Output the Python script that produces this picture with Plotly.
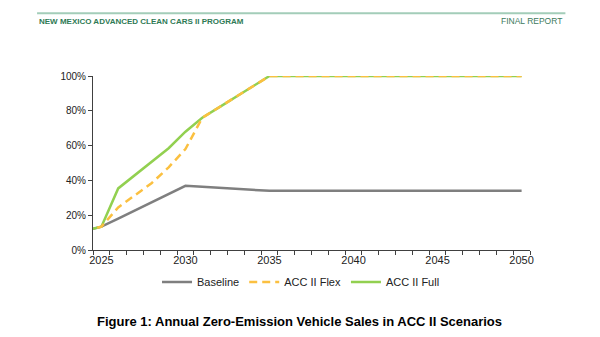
import plotly.graph_objects as go

years = list(range(2024, 2051))
baseline = [0.11, 0.134, 0.181, 0.228, 0.275, 0.322, 0.369, 0.364, 0.358, 0.352, 0.346, 0.340] + [0.340] * 15
acc_flex = [0.11, 0.134, 0.245, 0.315, 0.385, 0.475, 0.58, 0.76, 0.82, 0.88, 0.94, 1.0] + [1.0] * 15
acc_full = [0.11, 0.134, 0.354, 0.43, 0.505, 0.585, 0.68, 0.76, 0.82, 0.88, 0.94, 1.0] + [1.0] * 15

x_tick_vals = [2025, 2030, 2035, 2040, 2045, 2050]
y_tick_vals = [0, 0.2, 0.4, 0.6, 0.8, 1.0]
y_tick_text = ["0%", "20%", "40%", "60%", "80%", "100%"]

FONT = "Liberation Sans, Arial, sans-serif"

fig = go.Figure()
fig.add_trace(go.Scatter(x=years, y=baseline, name="Baseline", mode="lines",
                         line=dict(color="#7f7f7f", width=2.5), legendrank=1))
fig.add_trace(go.Scatter(x=years, y=acc_full, name="ACC II Full", mode="lines",
                         line=dict(color="#92d050", width=2.5), legendrank=3))
fig.add_trace(go.Scatter(x=years, y=acc_flex, name="ACC II Flex", mode="lines",
                         line=dict(color="#fbc040", width=2.5, dash="8px,5px"), legendrank=2))

fig.update_layout(
    width=600, height=337,
    margin=dict(l=93, r=70, t=76, b=87),
    paper_bgcolor="white", plot_bgcolor="white",
    font=dict(family=FONT, color="#222222", size=11),
    showlegend=True,
    legend=dict(orientation="h", x=0.476, xanchor="center", y=-0.184, yanchor="middle",
                font=dict(size=11, color="#222222"), itemwidth=30, traceorder="normal"),
)
fig.update_xaxes(
    range=[2024.5, 2050.5], tickvals=x_tick_vals, ticktext=[str(v) for v in x_tick_vals],
    ticks="", showgrid=False, zeroline=False,
    showline=True, linecolor="#404040", linewidth=1,
    tickfont=dict(size=11, color="#222222"),
    minor=dict(tick0=2024.5, dtick=1, ticks="outside", ticklen=4, tickcolor="#404040", showgrid=False),
)
fig.update_yaxes(
    range=[0, 1], tickvals=y_tick_vals, ticktext=y_tick_text,
    ticks="outside", ticklen=4, tickcolor="#404040",
    showgrid=False, zeroline=False,
    showline=True, linecolor="#404040", linewidth=1,
    tickfont=dict(size=10, color="#222222"),
)

# header rule and texts
fig.add_shape(type="line", xref="paper", yref="paper", x0=-0.128, x1=1.081, y0=1.36, y1=1.36,
              line=dict(color="#a3cdb9", width=2))
fig.add_annotation(xref="paper", yref="paper", x=-0.128, y=1.315, xanchor="left", yanchor="middle",
                   text="<b>NEW MEXICO ADVANCED CLEAN CARS II PROGRAM</b>", showarrow=False,
                   font=dict(size=8, color="#2e7a55", family=FONT))
fig.add_annotation(xref="paper", yref="paper", x=1.078, y=1.315, xanchor="right", yanchor="middle",
                   text="FINAL REPORT", showarrow=False,
                   font=dict(size=8.5, color="#3c7a5c", family=FONT))
# caption
fig.add_annotation(xref="paper", yref="paper", x=0.472, y=-0.413, xanchor="center", yanchor="middle",
                   text="<b>Figure 1: Annual Zero-Emission Vehicle Sales in ACC II Scenarios</b>",
                   showarrow=False, font=dict(size=13, color="#000000", family=FONT))

fig.write_html("out.html")
